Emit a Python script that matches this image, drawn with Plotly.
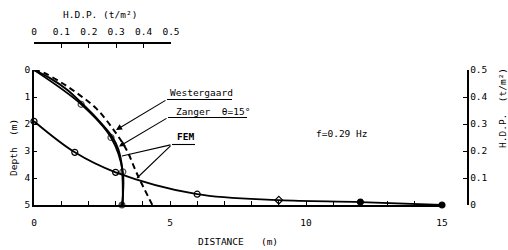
import plotly.graph_objects as go

# ---------------- data ----------------
# Horizontal distribution (FEM) along distance, H.D.P. on right axis
dist_x = [0, 1.5, 3, 6, 9, 12, 15]
dist_hdp = [0.31, 0.195, 0.121, 0.040, 0.018, 0.011, 0.0]

# Vertical distributions along depth, H.D.P. on top axis
west_depth = [0, 0.1, 0.5, 0.94, 1.43, 2.28, 2.96, 3.89, 5]
west_hdp = [0, 0.035, 0.105, 0.168, 0.228, 0.295, 0.338, 0.378, 0.432]

zang_depth = [0, 0.31, 0.74, 1.27, 1.85, 2.5, 2.95, 3.5, 4.2, 5]
zang_hdp = [0, 0.060, 0.122, 0.178, 0.234, 0.287, 0.308, 0.320, 0.324, 0.324]

fem_depth = [0, 1.27, 2.5, 3.77, 5]
fem_hdp = [0, 0.172, 0.281, 0.324, 0.321]

dist_ticks = list(range(0, 16))
dist_ticktext = [str(v) if v % 5 == 0 else "" for v in dist_ticks]
depth_ticks = [0, 1, 2, 3, 4, 5]
hdp_ticks = [0, 0.1, 0.2, 0.3, 0.4, 0.5]
hdp_ticktext = ["0", "0.1", "0.2", "0.3", "0.4", "0.5"]

FONT = "DejaVu Sans Mono"
FS = 9.5

# ---------------- geometry helpers (pixel -> paper) ----------------
L, R, T, B = 34, 38, 43, 45
W, H = 508, 250
PW, PH = W - L - R, H - T - B


def px(x):
    return (x - L) / PW


def py(y):
    return (H - B - y) / PH


fig = go.Figure()

fig.add_trace(go.Scatter(
    x=west_hdp, y=west_depth, xaxis="x2", yaxis="y", mode="lines",
    line=dict(color="black", width=2, dash="6px,4px", shape="spline"),
    cliponaxis=False, showlegend=False))

fig.add_trace(go.Scatter(
    x=zang_hdp, y=zang_depth, xaxis="x2", yaxis="y", mode="lines",
    line=dict(color="black", width=2, shape="spline"),
    cliponaxis=False, showlegend=False))

fig.add_trace(go.Scatter(
    x=fem_hdp, y=fem_depth, xaxis="x2", yaxis="y", mode="lines+markers",
    line=dict(color="black", width=1.8, shape="spline"),
    marker=dict(symbol=["circle-open", "circle-open", "circle-open", "circle-open", "circle"],
                size=[0, 6, 6, 6, 6], color="black", line=dict(color="black", width=1.2)),
    cliponaxis=False, showlegend=False))

fig.add_trace(go.Scatter(
    x=dist_x, y=dist_hdp, xaxis="x", yaxis="y2", mode="lines+markers",
    line=dict(color="black", width=1.8, shape="spline"),
    marker=dict(symbol=["circle-open", "circle-open", "circle-open", "circle-open",
                        "diamond-open", "circle", "circle"],
                size=6, color="black", line=dict(color="black", width=1.2)),
    cliponaxis=False, showlegend=False))

ydom = [0, py(70)]
fig.update_layout(
    width=W, height=H,
    margin=dict(l=L, r=R, t=T, b=B, autoexpand=False),
    showlegend=False,
    paper_bgcolor="white", plot_bgcolor="rgba(0,0,0,0)",
    font=dict(family=FONT, size=FS, color="black"),
    xaxis=dict(domain=[0, px(442)], range=[0, 15], tickvals=dist_ticks, ticktext=dist_ticktext,
               ticks="inside", ticklen=4, tickwidth=1, tickcolor="black", automargin=False,
               showline=True, linecolor="black", linewidth=1.5, showgrid=False, zeroline=False,
               anchor="y", ticklabelstandoff=8),
    xaxis2=dict(domain=[0, px(171)], range=[0, 0.5], tickvals=hdp_ticks, ticktext=hdp_ticktext,
                side="top", anchor="free", position=1, automargin=False,
                ticks="inside", ticklen=4, tickwidth=1, tickcolor="black",
                showline=True, linecolor="black", linewidth=1.5, showgrid=False, zeroline=False,
                ticklabelstandoff=3),
    yaxis=dict(domain=ydom, range=[5, 0], tickvals=depth_ticks, automargin=False,
               ticks="inside", ticklen=3, tickwidth=1, tickcolor="black",
               showline=True, linecolor="black", linewidth=1.5, showgrid=False, zeroline=False,
               anchor="x"),
    yaxis2=dict(overlaying="y", range=[0, 0.5], tickvals=hdp_ticks, ticktext=hdp_ticktext,
                side="right", anchor="free", position=px(467.5), automargin=False,
                ticks="inside", ticklen=4, tickwidth=1, tickcolor="black",
                showline=True, linecolor="black", linewidth=1.5, showgrid=False, zeroline=False),
)

ann = []
def text(t, x, y, xanchor="left", angle=0):
    ann.append(dict(text=t, x=px(x), y=py(y), xref="paper", yref="paper",
                    xanchor=xanchor, yanchor="middle", showarrow=False, textangle=angle,
                    font=dict(family=FONT, size=FS, color="black")))

text("H.D.P.\u00a0(t/m²)", 100, 14, "center")
text("H.D.P.\u00a0\u00a0(t/m²)", 502, 108, "center", -90)
text("Depth\u00a0\u00a0(m)", 13, 148, "center", -90)
text("DISTANCE\u00a0\u00a0\u00a0(m)", 238, 241, "center")
text("Westergaard", 168, 92)
text("Zanger\u00a0\u00a0θ=15°", 174, 111.5)
text("<b>FEM</b>", 175, 136)
text("f=0.29\u00a0Hz", 341, 133, "center")


def arrow(x0, y0, x1, y1, head=True):
    ann.append(dict(text="", x=px(x1), y=py(y1), xref="paper", yref="paper",
                    ax=x0 - x1, ay=y0 - y1, axref="pixel", ayref="pixel",
                    showarrow=True, arrowhead=2 if head else 0, arrowsize=1.1,
                    arrowwidth=1.1, arrowcolor="black", standoff=0))

arrow(167, 99.5, 116, 130)
arrow(168, 117.5, 119, 146.5)
arrow(172, 144.5, 122, 156, head=False)
arrow(172, 144.5, 137, 178, head=False)
fig.update_layout(annotations=ann)

shapes = []
for (x0, x1, y) in [(167, 232, 99.5), (168, 247, 117.5), (172, 195, 144.5)]:
    shapes.append(dict(type="line", xref="paper", yref="paper", x0=px(x0), x1=px(x1),
                       y0=py(y), y1=py(y), line=dict(color="black", width=1.1)))
fig.update_layout(shapes=shapes)

fig.write_html("out.html", config={"displayModeBar": False},
               post_script="document.body.style.margin='0px';document.body.style.padding='0px';")
